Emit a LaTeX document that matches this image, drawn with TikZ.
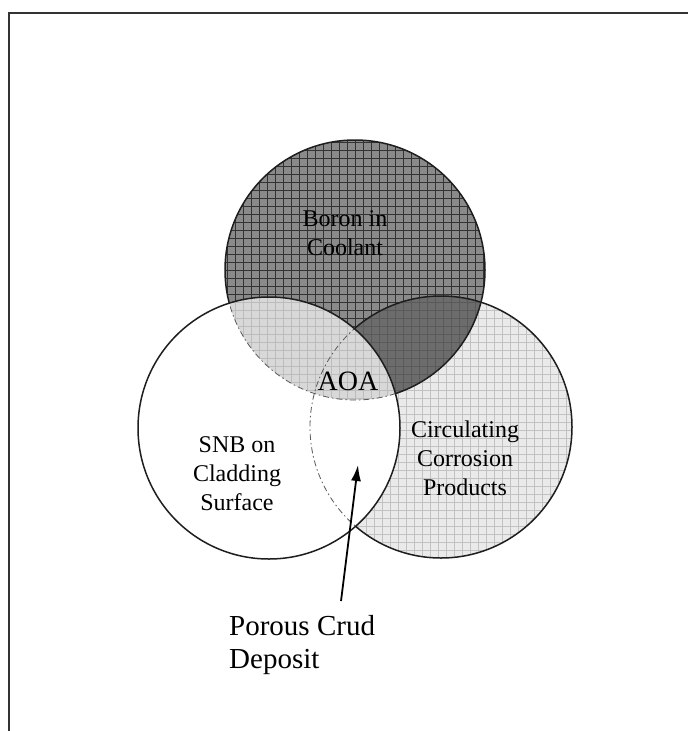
\documentclass[tikz,border=0pt]{standalone}
\usepackage{fontspec}
\setmainfont{Liberation Serif}
\usetikzlibrary{arrows.meta}
\definecolor{topbase}{HTML}{8A8A8A}
\definecolor{topgrid}{HTML}{333333}
\definecolor{trbase}{HTML}{6C6C6C}
\definecolor{trgrid}{HTML}{5A5A5A}
\definecolor{rbase}{HTML}{EAEAEA}
\definecolor{rgrid}{HTML}{C2C2C2}
\definecolor{ltbase}{HTML}{D8D8D8}
\definecolor{ltgrid}{HTML}{BCBCBC}
\definecolor{inkline}{HTML}{1E1E1E}
\tikzset{
  gridline/.style={line width=0.9pt},
  outline/.style={draw=inkline, line width=1.5pt},
  hiddenline/.style={draw=black!65, line width=0.8pt, dash pattern=on 6pt off 3pt on 1.5pt off 3pt},
  lbl/.style={font=\fontsize{24}{29}\selectfont, align=center, inner sep=0pt},
  framebar/.style={draw=black!80, line width=2pt},
  pointer/.style={draw=black, line width=1.8pt, -{Latex[length=16pt,width=10pt]}}
}
\begin{document}
\begin{tikzpicture}[x=1pt,y=-1pt]
\useasboundingbox (0,0) rectangle (688,731);
\coordinate (T) at (355,270);
\coordinate (L) at (269,428);
\coordinate (R) at (441,427);
\def\rT{130pt}
\def\rL{131pt}
\def\rR{131pt}

% frame
\coordinate (f0) at (9,731);
\coordinate (f1) at (9,13);
\coordinate (f2) at (688,13);
\draw[framebar] (f0) -- (f1) -- (f2);

% right circle fill
\begin{scope}
  \clip (R) circle[radius=\rR];
  \fill[rbase] (R) circle[radius=\rR];
  \foreach \g in {310,318,...,574} \draw[line width=0.7pt,rgrid] (\g,294) -- (\g,560);
  \foreach \g in {294,302,...,560} \draw[line width=0.7pt,rgrid] (308,\g) -- (574,\g);
\end{scope}

% top circle fill
\begin{scope}
  \clip (T) circle[radius=\rT];
  \fill[topbase] (T) circle[radius=\rT];
  \foreach \g in {227,235,...,487} \draw[gridline,topgrid] (\g,138) -- (\g,402);
  \foreach \g in {142,150,...,402} \draw[gridline,topgrid] (223,\g) -- (487,\g);
\end{scope}

% top & right overlap
\begin{scope}
  \clip (T) circle[radius=\rT];
  \clip (R) circle[radius=\rR];
  \fill[trbase] (T) circle[radius=\rT];
  \foreach \g in {227,235,...,487} \draw[line width=0.6pt,trgrid] (\g,138) -- (\g,402);
  \foreach \g in {142,150,...,402} \draw[line width=0.6pt,trgrid] (223,\g) -- (487,\g);
\end{scope}

% visible outlines of top and right circles
\draw[outline] (T) circle[radius=\rT];
\draw[outline] (R) circle[radius=\rR];

% left circle fill (hides the parts inside it)
\fill[white] (L) circle[radius=\rL];

% left & top overlap
\begin{scope}
  \clip (L) circle[radius=\rL];
  \clip (T) circle[radius=\rT];
  \fill[ltbase] (T) circle[radius=\rT];
  \foreach \g in {227,235,...,487} \draw[line width=0.6pt,ltgrid] (\g,138) -- (\g,402);
  \foreach \g in {142,150,...,402} \draw[line width=0.6pt,ltgrid] (223,\g) -- (487,\g);
\end{scope}

% hidden outlines inside the left circle
\begin{scope}
  \clip (L) circle[radius=\rL];
  \draw[hiddenline] (T) circle[radius=\rT];
  \draw[hiddenline] (R) circle[radius=\rR];
\end{scope}
\draw[outline] (L) circle[radius=\rL];

% labels
\node[lbl] (boron) at (345,233) {Boron in\\Coolant};
\node[lbl] (snb) at (237,474) {SNB on\\Cladding\\Surface};
\node[lbl] (circ) at (465,458) {Circulating\\Corrosion\\Products};
\node[lbl, font=\fontsize{28}{32}\selectfont] (aoa) at (348,381) {AOA};
\node[lbl, align=left, anchor=west, font=\fontsize{29}{33}\selectfont] (porous) at (229,645) {Porous Crud\\Deposit};

% pointer
\coordinate (arrowtail) at (341,601);
\coordinate (arrowtip) at (358,465);
\draw[pointer] (arrowtail) -- (arrowtip);
\end{tikzpicture}
\end{document}
